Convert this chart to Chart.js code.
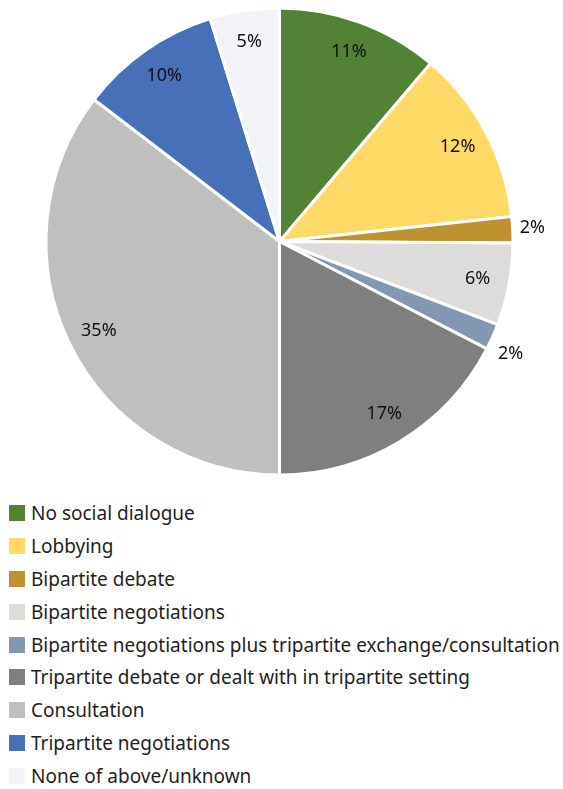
<!DOCTYPE html>
<html>
<head>
<meta charset="utf-8">
<script src="https://cdn.jsdelivr.net/npm/chart.js@4"></script>
<style>
  html, body { margin: 0; padding: 0; background: #fff; }
  body { width: 563px; height: 789px; position: relative; overflow: hidden; font-family: "Noto Sans", Lato, sans-serif; }
  #wrap { position: absolute; left: 0; top: 0; width: 563px; height: 483px; }
  #legend { position: absolute; left: 9px; top: 497px; margin: 0; padding: 0; list-style: none; }
  #legend li { height: 32.8px; display: flex; align-items: center; color: #1f1f1f; font-size: 19px; white-space: nowrap; }
  #legend span.box { display: inline-block; width: 16px; height: 16px; margin-right: 6px; flex: none; }
</style>
</head>
<body>
<div id="wrap"><canvas id="c"></canvas></div>
<ul id="legend"></ul>
<script>
const categories = [
  "No social dialogue",
  "Lobbying",
  "Bipartite debate",
  "Bipartite negotiations",
  "Bipartite negotiations plus tripartite exchange/consultation",
  "Tripartite debate or dealt with in tripartite setting",
  "Consultation",
  "Tripartite negotiations",
  "None of above/unknown"
];
const shares = [11.2, 12.1, 1.8, 5.7, 1.8, 17.4, 35.4, 9.8, 4.8];
const colors = ["#548235", "#FFD966", "#BF9230", "#DDDCDB", "#8497B0", "#7F7F7F", "#BFBFBF", "#4670B8", "#F2F3F6"];

const labelPlugin = {
  id: 'sliceLabels',
  afterDatasetsDraw(chart) {
    const ctx = chart.ctx;
    const meta = chart.getDatasetMeta(0);
    ctx.save();
    ctx.font = '18px "Noto Sans", Lato, sans-serif';
    ctx.fillStyle = '#111';
    ctx.textBaseline = 'middle';
    ctx.textAlign = 'center';
    meta.data.forEach((arc, i) => {
      const v = shares[i];
      const txt = Math.round(v) + '%';
      const mid = (arc.startAngle + arc.endAngle) / 2;
      const R = arc.outerRadius;
      const w = ctx.measureText(txt).width;
      let x, y;
      if (v < 3) {
        const d = R + 7;
        x = arc.x + Math.cos(mid) * d + w / 2 * Math.cos(mid);
        y = arc.y + Math.sin(mid) * d + 34 * Math.sin(mid);
      } else {
        const d = R - 32;
        x = arc.x + Math.cos(mid) * d;
        y = arc.y + Math.sin(mid) * d;
      }
      ctx.fillText(txt, x, y);
    });
    ctx.restore();
  }
};

new Chart(document.getElementById('c'), {
  type: 'pie',
  data: {
    labels: categories,
    datasets: [{
      data: shares,
      backgroundColor: colors,
      borderColor: '#ffffff',
      borderWidth: 3
    }]
  },
  options: {
    responsive: true,
    maintainAspectRatio: false,
    animation: false,
    radius: 233.5,
    layout: { padding: { left: 0, right: 4, top: 0, bottom: 0 } },
    plugins: { legend: { display: false }, tooltip: { enabled: false } }
  },
  plugins: [labelPlugin]
});

const ul = document.getElementById('legend');
categories.forEach((c, i) => {
  const li = document.createElement('li');
  const b = document.createElement('span');
  b.className = 'box';
  b.style.background = colors[i];
  li.appendChild(b);
  li.appendChild(document.createTextNode(c));
  ul.appendChild(li);
});
</script>
</body>
</html>
